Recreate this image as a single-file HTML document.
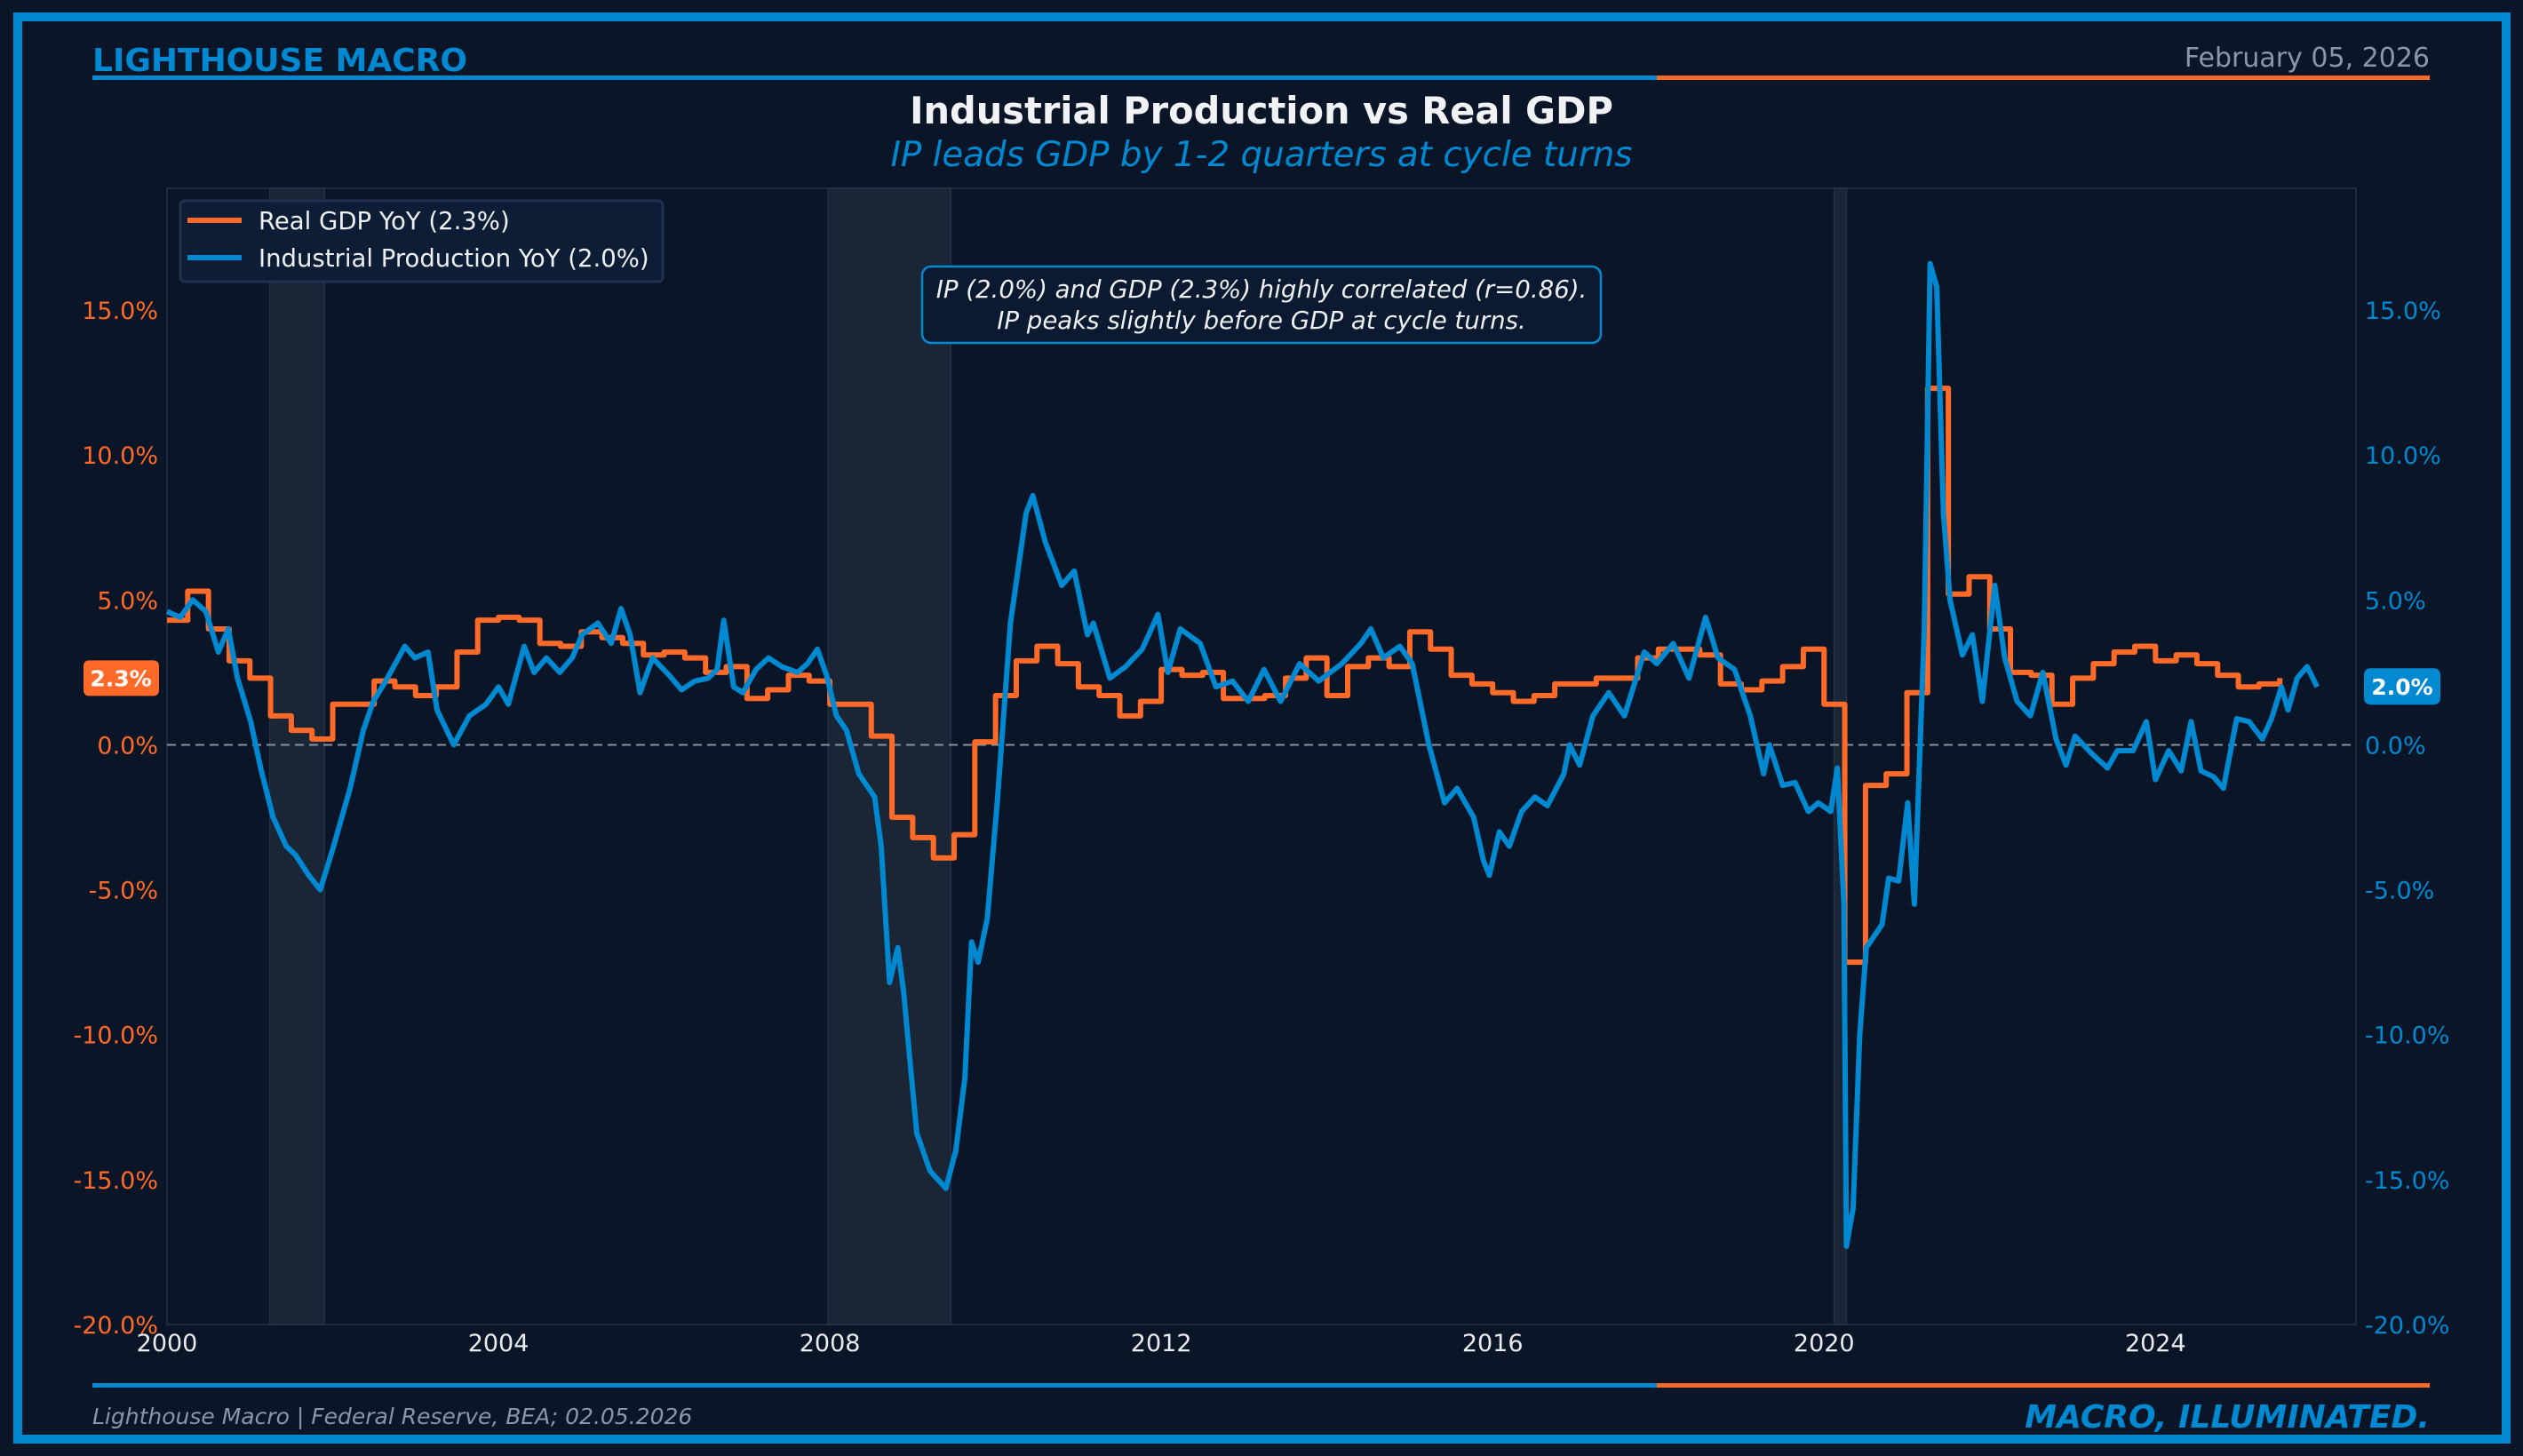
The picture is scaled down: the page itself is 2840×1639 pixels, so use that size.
<!DOCTYPE html>
<html><head><meta charset="utf-8">
<style>
html,body{margin:0;padding:0;background:#0a1628;}
svg{display:block;font-family:"DejaVu Sans","Liberation Sans",sans-serif;}
</style></head>
<body>
<svg id="chart" width="2840" height="1639" viewBox="0 0 2840 1639" xmlns="http://www.w3.org/2000/svg">
<rect x="0" y="0" width="2840" height="1639" fill="#0a1628"/>
<rect x="20" y="19" width="2801" height="1601" fill="none" stroke="#0089d1" stroke-width="10"/>
<text x="104" y="80" font-size="36" font-weight="bold" fill="#0089d1">LIGHTHOUSE MACRO</text>
<text x="2735" y="75" font-size="30" fill="#8b95a5" text-anchor="end">February 05, 2026</text>
<rect x="104" y="85" width="1761" height="5" fill="#0089d1"/>
<rect x="1865" y="85" width="870" height="5" fill="#ff6a28"/>
<text x="1420" y="139" font-size="41.5" font-weight="bold" fill="#f0f2f5" text-anchor="middle">Industrial Production vs Real GDP</text>
<text x="1420" y="187" font-size="38.8" font-style="italic" fill="#0089d1" text-anchor="middle">IP leads GDP by 1-2 quarters at cycle turns</text>
<g id="plot"></g>
<rect x="104" y="1557" width="1761" height="5" fill="#0089d1"/>
<rect x="1865" y="1557" width="870" height="5" fill="#ff6a28"/>
<text x="104" y="1603" font-size="25" font-style="italic" fill="#8b95a5">Lighthouse Macro | Federal Reserve, BEA; 02.05.2026</text>
<text x="2735" y="1607" font-size="36" font-weight="bold" font-style="italic" fill="#0089d1" text-anchor="end">MACRO, ILLUMINATED.</text>
</svg>
<script>
const gdpStart = 2000.0;
const gdpValues = [4.3,5.3,4.0,2.9, 2.3,1.0,0.5,0.2, 1.4,1.4,2.2,2.0, 1.7,2.0,3.2,4.3, 4.4,4.3,3.5,3.4,
 3.9,3.7,3.5,3.1, 3.2,3.0,2.5,2.7, 1.6,1.9,2.4,2.2, 1.4,1.4,0.3,-2.5, -3.2,-3.9,-3.1,0.1,
 1.7,2.9,3.4,2.8, 2.0,1.7,1.0,1.5, 2.6,2.4,2.5,1.6, 1.6,1.7,2.3,3.0, 1.7,2.7,3.0,2.7,
 3.9,3.3,2.4,2.1, 1.8,1.5,1.7,2.1, 2.1,2.3,2.3,3.0, 3.3,3.3,3.1,2.1, 1.9,2.2,2.7,3.3,
 1.4,-7.5,-1.4,-1.0, 1.8,12.3,5.2,5.8, 4.0,2.5,2.4,1.4, 2.3,2.8,3.2,3.4, 2.9,3.1,2.8,2.4, 2.0,2.1,2.3];
const ipDates = [2000.00,2000.16,2000.31,2000.47,2000.62,2000.74,2000.85,2001.01,2001.13,2001.28,2001.44,2001.55,2001.71,2001.85,
 2002.01,2002.21,2002.37,2002.49,2002.64,2002.87,2002.99,2003.15,2003.26,2003.46,2003.65,2003.85,2004.00,2004.12,2004.31,2004.43,2004.58,2004.74,2004.89,
 2005.01,2005.20,2005.36,2005.48,2005.59,2005.71,2005.86,2006.06,2006.21,2006.37,2006.53,2006.64,2006.72,2006.84,2006.95,
 2007.11,2007.26,2007.42,2007.61,2007.73,2007.85,2007.96,2008.08,2008.20,2008.35,2008.54,2008.62,2008.72,2008.82,2008.89,2008.97,
 2009.05,2009.21,2009.40,2009.52,2009.63,2009.71,2009.79,2009.90,2010.02,2010.18,2010.37,2010.45,2010.60,2010.80,2010.95,
 2011.11,2011.18,2011.38,2011.57,2011.77,2011.96,2012.08,2012.23,2012.47,2012.66,2012.86,2013.05,2013.24,2013.44,2013.67,2013.90,
 2014.18,2014.41,2014.53,2014.68,2014.88,2015.03,2015.23,2015.42,2015.57,2015.77,2015.89,2015.96,2016.08,2016.20,2016.35,2016.51,2016.66,2016.86,2016.93,
 2017.05,2017.21,2017.40,2017.59,2017.83,2017.98,2018.18,2018.37,2018.57,2018.72,2018.92,2019.11,2019.27,2019.34,2019.50,2019.65,2019.81,2019.93,
 2020.08,2020.16,2020.24,2020.27,2020.35,2020.43,2020.51,2020.70,2020.78,2020.90,2021.01,2021.09,2021.21,2021.28,2021.36,2021.44,2021.52,2021.67,2021.79,2021.91,
 2022.06,2022.18,2022.33,2022.49,2022.64,2022.80,2022.92,2023.03,2023.23,2023.42,2023.54,2023.73,2023.89,2024.00,2024.16,2024.31,2024.43,2024.55,2024.70,2024.82,2024.98,
 2025.13,2025.29,2025.40,2025.52,2025.60,2025.71,2025.83,2025.95];
const ipValues = [4.6,4.4,5.0,4.6,3.2,4.0,2.3,0.8,-0.8,-2.5,-3.5,-3.8,-4.5,-5.0,
 -3.5,-1.5,0.5,1.5,2.2,3.4,3.0,3.2,1.2,0.0,1.0,1.4,2.0,1.4,3.4,2.5,3.0,2.5,3.0,
 3.8,4.2,3.5,4.7,3.8,1.8,3.0,2.4,1.9,2.2,2.3,2.6,4.3,2.0,1.8,
 2.6,3.0,2.7,2.5,2.8,3.3,2.4,1.0,0.5,-1.0,-1.8,-3.5,-8.2,-7.0,-8.5,-11.0,
 -13.4,-14.7,-15.3,-14.0,-11.5,-6.8,-7.5,-6.0,-2.0,4.2,8.0,8.6,7.0,5.5,6.0,
 3.8,4.2,2.3,2.7,3.3,4.5,2.5,4.0,3.5,2.0,2.2,1.5,2.6,1.5,2.8,2.2,
 2.8,3.5,4.0,3.0,3.4,2.8,0.0,-2.0,-1.5,-2.5,-4.0,-4.5,-3.0,-3.5,-2.3,-1.8,-2.1,-1.0,0.0,
 -0.7,1.0,1.8,1.0,3.2,2.8,3.5,2.3,4.4,3.0,2.6,1.0,-1.0,0.0,-1.4,-1.3,-2.3,-2.0,
 -2.3,-0.8,-5.5,-17.3,-16.0,-10.0,-7.0,-6.2,-4.6,-4.7,-2.0,-5.5,4.0,16.6,15.8,8.0,5.0,3.1,3.8,1.5,
 5.5,3.0,1.5,1.0,2.5,0.2,-0.7,0.3,-0.3,-0.8,-0.2,-0.2,0.8,-1.2,-0.2,-0.9,0.8,-0.9,-1.1,-1.5,0.9,
 0.8,0.2,0.9,2.0,1.2,2.3,2.7,2.0];
const recStarts = [2001.24, 2007.98, 2020.12];
const recEnds = [2001.90, 2009.46, 2020.27];
const yTicks = [15,10,5,0,-5,-10,-15,-20];
const xTicks = [2000,2004,2008,2012,2016,2020,2024];

const NS='http://www.w3.org/2000/svg';
const PL=188, PR=2652, PT=212, PB=1491;
const X0=2000, X1=2026.42, Y0=-20, Y1=19.2;
function xs(v){return PL+(v-X0)/(X1-X0)*(PR-PL);}
function ys(v){return PB-(v-Y0)/(Y1-Y0)*(PB-PT);}
const plot=document.getElementById('plot');
function mk(tag,attrs,parent){const e=document.createElementNS(NS,tag);for(const k in attrs)e.setAttribute(k,attrs[k]);(parent||plot).appendChild(e);return e;}

let r=mk('rect',{x:PL,y:PT,width:PR-PL,height:PB-PT,fill:'#0a1628',stroke:'#1c2b42','stroke-width':2});



for(let i=0;i<recStarts.length;i++){
  const e=mk('rect',{x:xs(recStarts[i]),y:PT,width:xs(recEnds[i])-xs(recStarts[i]),height:PB-PT,fill:'#1a2536',stroke:'#243145','stroke-width':1.5});
  
  
}

let z=mk('line',{x1:PL,x2:PR,y1:ys(0),y2:ys(0),stroke:'#8a919b','stroke-width':2,'stroke-dasharray':'10,6'});



yTicks.forEach(v=>{
  const t=mk('text',{x:PL-10,y:ys(v)+10,'font-size':27,fill:'#ff6a28','text-anchor':'end'});
  t.textContent=v.toFixed(1)+'%';
  
  
  const t2=mk('text',{x:PR+10,y:ys(v)+10,'font-size':27,fill:'#0089d1','text-anchor':'start'});
  t2.textContent=v.toFixed(1)+'%';
  
  
});
xTicks.forEach(v=>{
  const t=mk('text',{x:xs(v),y:PB+30,'font-size':27,fill:'#e8ebef','text-anchor':'middle'});
  t.textContent=v;
  
  
});

let d='';
gdpValues.forEach((v,i)=>{
  const x=xs(gdpStart+i*0.25);
  if(i===0) d+='M'+x+' '+ys(v);
  else d+=' H'+x+' V'+ys(v);
});
let last=gdpValues.length-1;
let g=mk('path',{d:d,fill:'none',stroke:'#ff6a28','stroke-width':6,'stroke-linejoin':'round'});



let dp=ipDates.map((t,i)=>(i?'L':'M')+xs(t).toFixed(1)+' '+ys(ipValues[i]).toFixed(1)).join(' ');
let ip=mk('path',{d:dp,fill:'none',stroke:'#0089d1','stroke-width':6,'stroke-linejoin':'round'});



const lg=mk('g',{});


mk('rect',{x:203,y:226,width:543,height:91,rx:5,fill:'#0e1d36',stroke:'#1f3150','stroke-width':3},lg);
mk('line',{x1:211,x2:272,y1:248,y2:248,stroke:'#ff6a28','stroke-width':6},lg);
mk('line',{x1:211,x2:272,y1:290,y2:290,stroke:'#0089d1','stroke-width':6},lg);
let l1=mk('text',{x:291,y:258,'font-size':27.5,fill:'#eef0f3'},lg);
l1.textContent='Real GDP YoY ('+gdpValues[last].toFixed(1)+'%)';


let l2=mk('text',{x:291,y:300,'font-size':27.5,fill:'#eef0f3'},lg);
l2.textContent='Industrial Production YoY ('+ipValues[ipValues.length-1].toFixed(1)+'%)';



const an=mk('g',{});


mk('rect',{x:1038,y:300,width:764,height:86,rx:10,fill:'#0b1a30',stroke:'#0089d1','stroke-width':2.5},an);
let a1=mk('text',{x:1420,y:335,'font-size':27.6,'font-style':'italic',fill:'#eef0f3','text-anchor':'middle'},an);
a1.textContent='IP (2.0%) and GDP (2.3%) highly correlated (r=0.86).';
let a2=mk('text',{x:1420,y:370,'font-size':27.6,'font-style':'italic',fill:'#eef0f3','text-anchor':'middle'},an);
a2.textContent='IP peaks slightly before GDP at cycle turns.';

const gv=gdpValues[last], iv=ipValues[ipValues.length-1];
const b1=mk('g',{});


mk('rect',{x:94,y:ys(gv)-20,width:85,height:40,rx:6,fill:'#ff6a28'},b1);
let bt1=mk('text',{x:136,y:ys(gv)+9,'font-size':25,'font-weight':'bold',fill:'#fff','text-anchor':'middle'},b1);
bt1.textContent=gv.toFixed(1)+'%';
const b2=mk('g',{});


mk('rect',{x:2661,y:ys(iv)-21,width:86,height:41,rx:7,fill:'#0089d1'},b2);
let bt2=mk('text',{x:2704,y:ys(iv)+9,'font-size':25,'font-weight':'bold',fill:'#fff','text-anchor':'middle'},b2);
bt2.textContent=iv.toFixed(1)+'%';
</script>
</body></html>
